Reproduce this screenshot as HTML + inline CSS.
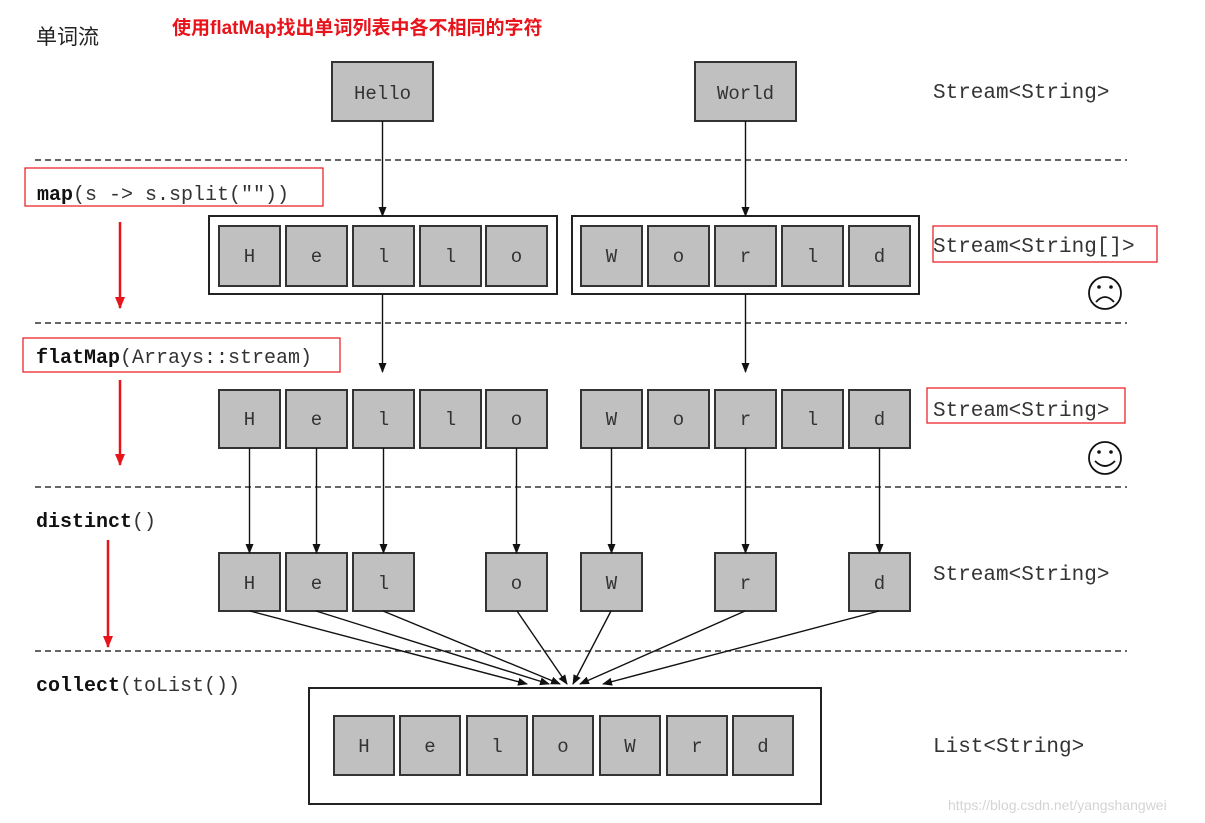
<!DOCTYPE html>
<html><head><meta charset="utf-8"><style>
html,body{margin:0;padding:0;background:#fff;}
svg{display:block;}
.m{font-family:"Liberation Mono",monospace;fill:#333;}
.c{font-family:"Liberation Mono",monospace;font-size:19px;fill:#333;text-anchor:middle;}
.b{font-weight:bold;fill:#111;}
</style></head><body>
<svg width="1205" height="823" viewBox="0 0 1205 823" xmlns="http://www.w3.org/2000/svg">
<defs>
<marker id="ah" markerWidth="10" markerHeight="10" refX="9" refY="5" orient="auto" markerUnits="userSpaceOnUse"><path d="M0,1 L10,5 L0,9 z" fill="#111"/></marker>
<marker id="rh" markerWidth="12" markerHeight="12" refX="11" refY="6" orient="auto" markerUnits="userSpaceOnUse"><path d="M0,1 L12,6 L0,11 z" fill="#e8141c"/></marker>
</defs>
<text x="36" y="44" font-family="'Liberation Sans','Noto Sans CJK SC',sans-serif" font-size="21" fill="#222">单词流</text>
<text x="172" y="34" font-family="'Liberation Sans','Noto Sans CJK SC',sans-serif" font-size="19" font-weight="bold" fill="#e8141c">使用flatMap找出单词列表中各不相同的字符</text>

<g stroke="#333" stroke-width="1.5" stroke-dasharray="6,4">
<line x1="35" y1="160" x2="1127" y2="160"/><line x1="35" y1="323" x2="1127" y2="323"/>
<line x1="35" y1="487" x2="1127" y2="487"/><line x1="35" y1="651" x2="1127" y2="651"/>
</g>

<!-- top words -->
<g fill="#c0c0c0" stroke="#333" stroke-width="2">
<rect x="332" y="62" width="101" height="59"/><rect x="695" y="62" width="101" height="59"/>
</g>
<text class="c" x="382.5" y="99" font-size="20">Hello</text>
<text class="c" x="745.5" y="99" font-size="20">World</text>

<!-- labels left -->
<rect x="25" y="168" width="298" height="38" fill="none" stroke="#e8141c" stroke-width="1.2"/>
<text class="m" x="37" y="200" font-size="20"><tspan class="b">map</tspan>(s -&gt; s.split(""))</text>
<rect x="23" y="338" width="317" height="34" fill="none" stroke="#e8141c" stroke-width="1.2"/>
<text class="m" x="36" y="363" font-size="20"><tspan class="b">flatMap</tspan>(Arrays::stream)</text>
<text class="m" x="36" y="527" font-size="20"><tspan class="b">distinct</tspan>()</text>
<text class="m" x="36" y="691" font-size="20"><tspan class="b">collect</tspan>(toList())</text>

<g stroke="#e8141c" stroke-width="2.5">
<line x1="120" y1="222" x2="120" y2="308" marker-end="url(#rh)"/>
<line x1="120" y1="380" x2="120" y2="465" marker-end="url(#rh)"/>
<line x1="108" y1="540" x2="108" y2="647" marker-end="url(#rh)"/>
</g>

<!-- right labels -->
<g class="m" font-size="21">
<text x="933" y="98">Stream&lt;String&gt;</text>
<text x="933" y="252">Stream&lt;String[]&gt;</text>
<text x="933" y="416">Stream&lt;String&gt;</text>
<text x="933" y="580">Stream&lt;String&gt;</text>
<text x="933" y="752">List&lt;String&gt;</text>
</g>
<rect x="933" y="226" width="224" height="36" fill="none" stroke="#e8141c" stroke-width="1.2"/>
<rect x="927" y="388" width="198" height="35" fill="none" stroke="#e8141c" stroke-width="1.2"/>

<!-- faces -->
<g fill="none" stroke="#111" stroke-width="1.8">
<circle cx="1105" cy="293" r="16"/><path d="M1096,302 Q1105,292 1114,302"/>
<circle cx="1105" cy="458" r="16"/><path d="M1095,461 Q1105,471 1115,461"/>
</g>
<g fill="#111"><circle cx="1099" cy="287" r="1.8"/><circle cx="1111" cy="287" r="1.8"/><circle cx="1099" cy="452" r="1.8"/><circle cx="1111" cy="452" r="1.8"/></g>

<!-- row1 containers -->
<g fill="#fff" stroke="#222" stroke-width="2">
<rect x="209" y="216" width="348" height="78"/><rect x="572" y="216" width="347" height="78"/>
<rect x="309" y="688" width="512" height="116"/>
</g>

<g fill="#c0c0c0" stroke="#333" stroke-width="2">
<!-- row1 -->
<rect x="219" y="226" width="61" height="60"/><rect x="286" y="226" width="61" height="60"/><rect x="353" y="226" width="61" height="60"/><rect x="420" y="226" width="61" height="60"/><rect x="486" y="226" width="61" height="60"/>
<rect x="581" y="226" width="61" height="60"/><rect x="648" y="226" width="61" height="60"/><rect x="715" y="226" width="61" height="60"/><rect x="782" y="226" width="61" height="60"/><rect x="849" y="226" width="61" height="60"/>
<!-- row2 -->
<rect x="219" y="390" width="61" height="58"/><rect x="286" y="390" width="61" height="58"/><rect x="353" y="390" width="61" height="58"/><rect x="420" y="390" width="61" height="58"/><rect x="486" y="390" width="61" height="58"/>
<rect x="581" y="390" width="61" height="58"/><rect x="648" y="390" width="61" height="58"/><rect x="715" y="390" width="61" height="58"/><rect x="782" y="390" width="61" height="58"/><rect x="849" y="390" width="61" height="58"/>
<!-- row3 -->
<rect x="219" y="553" width="61" height="58"/><rect x="286" y="553" width="61" height="58"/><rect x="353" y="553" width="61" height="58"/><rect x="486" y="553" width="61" height="58"/><rect x="581" y="553" width="61" height="58"/><rect x="715" y="553" width="61" height="58"/><rect x="849" y="553" width="61" height="58"/>
<!-- final -->
<rect x="334" y="716" width="60" height="59"/><rect x="400" y="716" width="60" height="59"/><rect x="467" y="716" width="60" height="59"/><rect x="533" y="716" width="60" height="59"/><rect x="600" y="716" width="60" height="59"/><rect x="667" y="716" width="60" height="59"/><rect x="733" y="716" width="60" height="59"/>
</g>

<g class="c">
<text x="249.5" y="262">H</text><text x="316.5" y="262">e</text><text x="383.5" y="262">l</text><text x="450.5" y="262">l</text><text x="516.5" y="262">o</text>
<text x="611.5" y="262">W</text><text x="678.5" y="262">o</text><text x="745.5" y="262">r</text><text x="812.5" y="262">l</text><text x="879.5" y="262">d</text>
<text x="249.5" y="425">H</text><text x="316.5" y="425">e</text><text x="383.5" y="425">l</text><text x="450.5" y="425">l</text><text x="516.5" y="425">o</text>
<text x="611.5" y="425">W</text><text x="678.5" y="425">o</text><text x="745.5" y="425">r</text><text x="812.5" y="425">l</text><text x="879.5" y="425">d</text>
<text x="249.5" y="589">H</text><text x="316.5" y="589">e</text><text x="383.5" y="589">l</text><text x="516.5" y="589">o</text><text x="611.5" y="589">W</text><text x="745.5" y="589">r</text><text x="879.5" y="589">d</text>
<text x="364" y="752">H</text><text x="430" y="752">e</text><text x="497" y="752">l</text><text x="563" y="752">o</text><text x="630" y="752">W</text><text x="697" y="752">r</text><text x="763" y="752">d</text>
</g>

<!-- arrows -->
<g stroke="#111" stroke-width="1.4" marker-end="url(#ah)">
<line x1="382.5" y1="121" x2="382.5" y2="216"/><line x1="745.5" y1="121" x2="745.5" y2="216"/>
<line x1="382.5" y1="294" x2="382.5" y2="372"/><line x1="745.5" y1="294" x2="745.5" y2="372"/>
<line x1="249.5" y1="448" x2="249.5" y2="553"/><line x1="316.5" y1="448" x2="316.5" y2="553"/><line x1="383.5" y1="448" x2="383.5" y2="553"/><line x1="516.5" y1="448" x2="516.5" y2="553"/><line x1="611.5" y1="448" x2="611.5" y2="553"/><line x1="745.5" y1="448" x2="745.5" y2="553"/><line x1="879.5" y1="448" x2="879.5" y2="553"/>
<line x1="250" y1="611" x2="527" y2="684"/>
<line x1="316" y1="611" x2="549" y2="684"/>
<line x1="383" y1="611" x2="560" y2="684"/>
<line x1="517" y1="611" x2="567" y2="684"/>
<line x1="611" y1="611" x2="573" y2="684"/>
<line x1="745" y1="611" x2="580" y2="684"/>
<line x1="879" y1="611" x2="603" y2="684"/>
</g>

<text x="948" y="810" font-family="'Liberation Sans',sans-serif" font-size="14" fill="#d4d4d4">https://blog.csdn.net/yangshangwei</text>
</svg>
</body></html>
